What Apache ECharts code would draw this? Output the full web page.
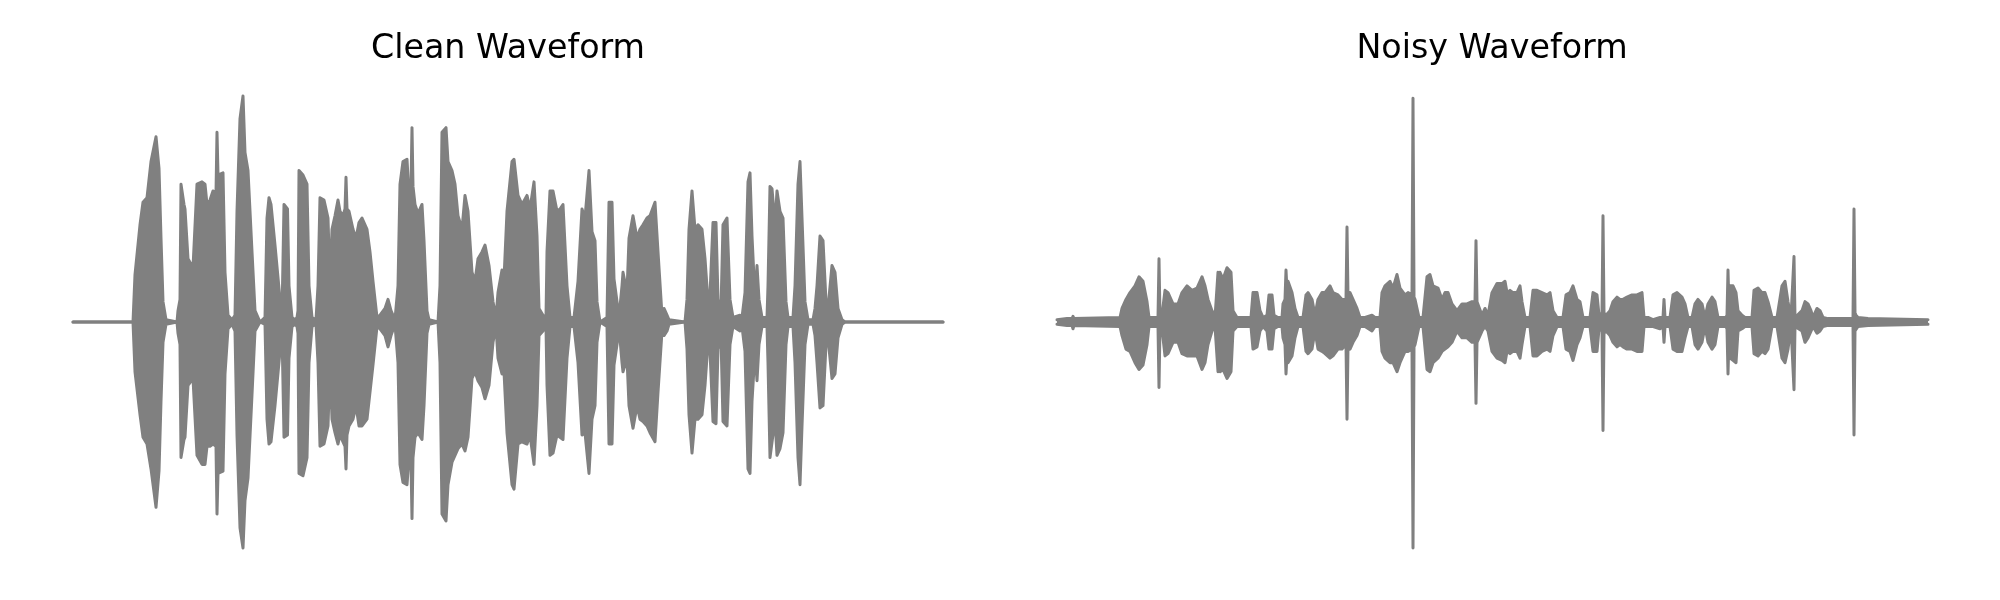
<!DOCTYPE html>
<html>
<head>
<meta charset="utf-8">
<script src="https://cdn.jsdelivr.net/npm/echarts@6/dist/echarts.min.js"></script>
<style>
html,body{margin:0;padding:0;background:#fff;}
#chart{width:2000px;height:600px;}
</style>
</head>
<body>
<div id="chart"></div>
<script>
// ---- Data (envelope of each waveform: time in s, max and min amplitude) ----
const panelTitles = ['Clean Waveform', 'Noisy Waveform'];

const cleanTime = [0.00,0.60,0.62,0.67,0.70,0.74,0.78,0.83,0.86,0.88,0.90,0.93,1.04,1.05,1.07,1.08,1.10,1.11,1.12,1.15,1.20,1.22,1.24,1.29,1.32,1.34,1.37,1.40,1.43,1.44,1.45,1.50,1.52,1.55,1.59,1.62,1.64,1.67,1.70,1.72,1.75,1.79,1.82,1.87,1.92,1.94,1.96,1.98,2.02,2.07,2.09,2.11,2.145,2.16,2.19,2.22,2.24,2.25,2.26,2.30,2.34,2.36,2.39,2.43,2.45,2.47,2.51,2.55,2.57,2.59,2.62,2.65,2.67,2.70,2.72,2.73,2.74,2.76,2.80,2.83,2.86,2.89,2.94,2.97,3.00,3.04,3.07,3.12,3.15,3.18,3.22,3.25,3.27,3.30,3.34,3.36,3.38,3.39,3.40,3.42,3.45,3.49,3.51,3.54,3.56,3.65,3.67,3.69,3.73,3.75,3.79,3.82,3.85,3.89,3.92,3.95,3.99,4.02,4.05,4.09,4.12,4.16,4.20,4.23,4.25,4.29,4.31,4.34,4.39,4.41,4.45,4.49,4.54,4.57,4.61,4.64,4.66,4.70,4.73,4.74,4.77,4.80,4.84,4.87,4.90,4.94,4.97,5.01,5.05,5.09,5.12,5.16,5.19,5.22,5.24,5.27,5.34,5.36,5.39,5.41,5.44,5.46,5.49,5.50,5.54,5.56,5.60,5.64,5.67,5.70,5.74,5.77,5.82,5.85,5.89,5.91,5.94,5.96,6.12,6.14,6.16,6.19,6.22,6.25,6.29,6.32,6.35,6.37,6.40,6.43,6.45,6.48,6.50,6.54,6.57,6.60,6.67,6.69,6.72,6.75,6.77,6.79,6.82,6.84,6.86,6.89,6.94,6.95,6.97,6.99,7.02,7.04,7.07,7.10,7.13,7.15,7.20,7.22,7.25,7.27,7.29,7.32,7.35,7.40,7.42,7.44,7.47,7.50,7.53,7.55,7.59,7.62,7.65,7.69,7.72,8.70];
const cleanMax = [0,0,0.21,0.43,0.53,0.55,0.71,0.82,0.68,0.37,0.09,0.01,0,0.05,0.10,0.61,0.61,0.52,0.50,0.28,0.24,0.24,0.61,0.62,0.61,0.52,0.54,0.58,0.57,0.84,0.65,0.66,0.22,0.03,0.01,0.03,0.49,0.90,1.00,0.75,0.67,0.31,0.05,0,0.02,0.46,0.55,0.52,0.34,0.10,0.03,0.52,0.50,0.16,0.02,0.01,0.02,0.05,0.67,0.65,0.61,0.16,0.02,0.01,0.16,0.55,0.54,0.46,0.16,0.41,0.47,0.54,0.49,0.47,0.50,0.64,0.50,0.49,0.41,0.37,0.44,0.46,0.41,0.31,0.18,0.02,0.03,0.06,0.10,0.05,0.01,0.16,0.61,0.71,0.72,0.56,0.60,0.86,0.60,0.52,0.48,0.52,0.36,0.05,0.01,0,0.16,0.84,0.86,0.71,0.67,0.61,0.47,0.41,0.56,0.49,0.22,0.18,0.28,0.31,0.34,0.25,0.09,0.02,0.13,0.23,0.19,0.49,0.71,0.72,0.56,0.52,0.56,0.50,0.62,0.38,0.06,0.03,0.02,0.31,0.58,0.58,0.49,0.50,0.52,0.16,0.02,0.02,0.18,0.50,0.46,0.67,0.40,0.36,0.09,0,0.02,0.53,0.53,0.19,0.09,0.02,0.16,0.22,0.13,0.37,0.47,0.37,0.41,0.43,0.46,0.47,0.53,0.31,0.03,0.06,0.03,0.01,0,0.10,0.41,0.58,0.41,0.43,0.41,0.28,0.09,0.12,0.44,0.44,0.10,0.06,0.43,0.46,0.10,0.02,0.03,0.02,0.13,0.62,0.66,0.38,0.10,0.25,0.10,0.02,0.02,0.16,0.60,0.59,0.43,0.58,0.49,0.46,0.09,0.02,0.02,0.16,0.61,0.71,0.46,0.09,0.01,0.01,0.06,0.16,0.38,0.36,0.09,0.06,0.25,0.22,0.06,0.01,0,0];
const cleanMin = [0,0,-0.22,-0.41,-0.51,-0.54,-0.65,-0.82,-0.66,-0.35,-0.09,-0.01,0,-0.05,-0.10,-0.60,-0.60,-0.52,-0.51,-0.28,-0.25,-0.25,-0.59,-0.63,-0.63,-0.55,-0.55,-0.54,-0.55,-0.85,-0.67,-0.66,-0.23,-0.03,-0.01,-0.04,-0.50,-0.91,-1.00,-0.79,-0.69,-0.32,-0.04,0,-0.01,-0.43,-0.54,-0.53,-0.37,-0.13,-0.04,-0.51,-0.50,-0.16,-0.02,-0.01,-0.02,-0.05,-0.67,-0.68,-0.60,-0.18,-0.02,-0.01,-0.18,-0.55,-0.54,-0.46,-0.19,-0.43,-0.49,-0.54,-0.50,-0.53,-0.55,-0.65,-0.50,-0.46,-0.43,-0.37,-0.46,-0.46,-0.43,-0.31,-0.19,-0.02,-0.03,-0.06,-0.11,-0.06,-0.01,-0.18,-0.63,-0.71,-0.72,-0.60,-0.62,-0.87,-0.60,-0.51,-0.49,-0.52,-0.37,-0.05,-0.01,0,-0.18,-0.85,-0.88,-0.72,-0.62,-0.59,-0.56,-0.54,-0.57,-0.51,-0.25,-0.22,-0.26,-0.29,-0.34,-0.28,-0.09,-0.02,-0.16,-0.23,-0.22,-0.49,-0.72,-0.74,-0.54,-0.53,-0.54,-0.50,-0.63,-0.37,-0.06,-0.04,-0.02,-0.28,-0.59,-0.58,-0.50,-0.51,-0.52,-0.16,-0.02,-0.02,-0.18,-0.50,-0.49,-0.67,-0.43,-0.37,-0.09,0,-0.02,-0.54,-0.54,-0.19,-0.10,-0.02,-0.18,-0.22,-0.16,-0.37,-0.47,-0.37,-0.43,-0.44,-0.46,-0.49,-0.53,-0.31,-0.04,-0.06,-0.04,-0.01,0,-0.12,-0.41,-0.58,-0.43,-0.43,-0.41,-0.28,-0.09,-0.13,-0.44,-0.45,-0.12,-0.07,-0.44,-0.46,-0.10,-0.02,-0.04,-0.02,-0.13,-0.65,-0.67,-0.35,-0.13,-0.26,-0.10,-0.02,-0.02,-0.18,-0.60,-0.60,-0.43,-0.59,-0.56,-0.49,-0.10,-0.02,-0.02,-0.18,-0.60,-0.72,-0.46,-0.10,-0.01,-0.01,-0.06,-0.18,-0.38,-0.37,-0.10,-0.07,-0.25,-0.23,-0.07,-0.01,0,0];

const noisyTime = [0.00,0.10,0.15,0.16,0.17,0.63,0.65,0.69,0.73,0.78,0.82,0.86,0.90,0.92,1.01,1.02,1.03,1.05,1.08,1.11,1.16,1.21,1.25,1.30,1.35,1.40,1.45,1.48,1.51,1.55,1.58,1.60,1.61,1.62,1.63,1.66,1.70,1.74,1.76,1.80,1.94,1.96,2.00,2.03,2.06,2.10,2.12,2.15,2.17,2.21,2.25,2.26,2.28,2.29,2.30,2.31,2.35,2.38,2.41,2.46,2.49,2.51,2.55,2.58,2.61,2.65,2.68,2.73,2.76,2.81,2.85,2.89,2.90,2.91,2.93,2.96,3.00,3.03,3.08,3.15,3.18,3.23,3.25,3.28,3.33,3.36,3.40,3.43,3.48,3.51,3.55,3.56,3.57,3.58,3.62,3.66,3.70,3.73,3.76,3.81,3.85,3.88,3.91,3.95,4.00,4.05,4.10,4.15,4.18,4.19,4.20,4.22,4.25,4.28,4.31,4.35,4.40,4.45,4.48,4.50,4.53,4.56,4.60,4.63,4.65,4.68,4.73,4.76,4.80,4.85,4.90,4.93,4.96,5.00,5.06,5.09,5.13,5.16,5.20,5.23,5.26,5.33,5.36,5.40,5.42,5.45,5.46,5.47,5.49,5.53,5.56,5.60,5.63,5.66,5.70,5.75,5.80,5.85,5.87,5.91,5.96,6.03,6.06,6.07,6.08,6.13,6.16,6.20,6.25,6.28,6.31,6.35,6.38,6.41,6.45,6.48,6.51,6.55,6.58,6.61,6.69,6.70,6.71,6.72,6.73,6.76,6.79,6.81,6.85,6.88,6.95,6.97,7.01,7.05,7.08,7.11,7.15,7.20,7.25,7.28,7.31,7.34,7.36,7.37,7.38,7.40,7.45,7.48,7.51,7.54,7.56,7.60,7.63,7.66,7.71,7.96,7.97,7.98,7.99,8.01,8.11,8.71];
const noisyMax = [0.01,0.015,0.015,0.025,0.015,0.02,0.06,0.10,0.13,0.16,0.20,0.18,0.09,0.02,0.02,0.28,0.02,0.03,0.14,0.13,0.08,0.08,0.13,0.16,0.14,0.15,0.20,0.16,0.10,0.05,0.02,0.02,0.22,0.03,0.22,0.19,0.24,0.22,0.05,0.02,0.02,0.13,0.13,0.05,0.02,0.03,0.12,0.12,0.03,0.02,0.02,0.08,0.10,0.23,0.14,0.18,0.13,0.06,0.02,0.02,0.12,0.13,0.10,0.03,0.10,0.13,0.13,0.16,0.13,0.12,0.10,0.10,0.42,0.11,0.13,0.10,0.06,0.02,0.02,0.03,0.02,0.02,0.13,0.16,0.18,0.15,0.21,0.15,0.12,0.13,0.12,0.99,0.11,0.10,0.02,0.02,0.20,0.21,0.16,0.15,0.10,0.13,0.13,0.08,0.05,0.08,0.08,0.09,0.09,0.36,0.09,0.09,0.03,0.06,0.03,0.13,0.17,0.17,0.18,0.13,0.14,0.13,0.13,0.16,0.09,0.02,0.02,0.14,0.14,0.13,0.12,0.13,0.05,0.02,0.02,0.12,0.13,0.16,0.10,0.09,0.02,0.02,0.13,0.12,0.03,0.04,0.47,0.04,0.03,0.05,0.09,0.11,0.10,0.10,0.11,0.12,0.12,0.13,0.02,0.02,0.01,0.02,0.02,0.10,0.02,0.02,0.12,0.13,0.11,0.08,0.02,0.02,0.08,0.10,0.08,0.02,0.08,0.11,0.09,0.02,0.02,0.03,0.23,0.06,0.16,0.16,0.13,0.05,0.03,0.02,0.02,0.14,0.15,0.13,0.13,0.09,0.02,0.02,0.16,0.18,0.09,0.02,0.02,0.29,0.02,0.02,0.05,0.09,0.08,0.05,0.02,0.06,0.05,0.02,0.015,0.015,0.50,0.04,0.03,0.02,0.015,0.01];
const noisyMin = [-0.01,-0.015,-0.015,-0.03,-0.015,-0.02,-0.06,-0.12,-0.13,-0.18,-0.21,-0.19,-0.10,-0.02,-0.02,-0.29,-0.02,-0.03,-0.15,-0.14,-0.09,-0.09,-0.14,-0.15,-0.15,-0.15,-0.21,-0.18,-0.10,-0.04,-0.02,-0.02,-0.22,-0.03,-0.22,-0.21,-0.25,-0.22,-0.04,-0.02,-0.02,-0.12,-0.11,-0.04,-0.02,-0.04,-0.12,-0.12,-0.03,-0.02,-0.02,-0.07,-0.10,-0.23,-0.14,-0.18,-0.15,-0.07,-0.02,-0.02,-0.13,-0.14,-0.12,-0.04,-0.12,-0.13,-0.14,-0.16,-0.15,-0.12,-0.12,-0.10,-0.43,-0.11,-0.12,-0.09,-0.06,-0.02,-0.02,-0.04,-0.02,-0.02,-0.13,-0.16,-0.18,-0.18,-0.22,-0.18,-0.13,-0.13,-0.12,-1.00,-0.11,-0.10,-0.02,-0.02,-0.21,-0.22,-0.18,-0.16,-0.13,-0.12,-0.11,-0.09,-0.04,-0.07,-0.07,-0.09,-0.09,-0.36,-0.09,-0.09,-0.04,-0.02,-0.04,-0.13,-0.16,-0.17,-0.18,-0.13,-0.14,-0.13,-0.13,-0.16,-0.10,-0.02,-0.02,-0.15,-0.15,-0.13,-0.12,-0.13,-0.06,-0.02,-0.02,-0.12,-0.13,-0.17,-0.10,-0.07,-0.02,-0.02,-0.13,-0.13,-0.03,-0.04,-0.48,-0.05,-0.04,-0.06,-0.09,-0.11,-0.10,-0.11,-0.12,-0.12,-0.13,-0.13,-0.02,-0.02,-0.02,-0.03,-0.02,-0.09,-0.02,-0.02,-0.12,-0.13,-0.13,-0.07,-0.02,-0.02,-0.10,-0.12,-0.09,-0.02,-0.09,-0.12,-0.10,-0.02,-0.02,-0.03,-0.23,-0.06,-0.16,-0.17,-0.18,-0.04,-0.03,-0.02,-0.02,-0.14,-0.15,-0.13,-0.14,-0.12,-0.02,-0.02,-0.16,-0.18,-0.12,-0.02,-0.02,-0.30,-0.02,-0.02,-0.04,-0.09,-0.07,-0.04,-0.02,-0.05,-0.04,-0.02,-0.015,-0.015,-0.50,-0.04,-0.04,-0.02,-0.015,-0.01];

// ---- Build chart ----
function pairs(t, v) { return t.map((x, i) => [x, v[i]]); }
const gray = '#808080';
function envSeries(idx, t, v) {
  return {
    type: 'line', xAxisIndex: idx, yAxisIndex: idx,
    data: pairs(t, v), showSymbol: false, symbol: 'none', silent: true,
    clip: false, animation: false,
    lineStyle: { color: gray, width: 3, join: 'round', cap: 'round' },
    areaStyle: { color: gray, opacity: 1, origin: 0 }
  };
}
const titleStyle = { fontFamily: 'DejaVu Sans', fontSize: 33.3, fontWeight: 'normal', color: '#000' };
const gridTop = 84.7, gridH = 474.6;
const chart = echarts.init(document.getElementById('chart'), null, { renderer: 'canvas' });
chart.setOption({
  backgroundColor: '#ffffff',
  animation: false,
  title: [
    { text: panelTitles[0], left: 503, top: 28, textAlign: 'center', textStyle: titleStyle },
    { text: panelTitles[1], left: 1487, top: 28, textAlign: 'center', textStyle: titleStyle }
  ],
  grid: [
    { left: 68, width: 880, top: gridTop, height: gridH },
    { left: 1052, width: 880, top: gridTop, height: gridH }
  ],
  xAxis: [
    { type: 'value', gridIndex: 0, min: -0.05, max: 8.75, show: false },
    { type: 'value', gridIndex: 1, min: -0.05, max: 8.75, show: false }
  ],
  yAxis: [
    { type: 'value', gridIndex: 0, min: -1.05, max: 1.05, show: false },
    { type: 'value', gridIndex: 1, min: -1.05, max: 1.05, show: false }
  ],
  series: [
    envSeries(0, cleanTime, cleanMax),
    envSeries(0, cleanTime, cleanMin),
    envSeries(1, noisyTime, noisyMax),
    envSeries(1, noisyTime, noisyMin)
  ]
});
</script>
</body>
</html>
